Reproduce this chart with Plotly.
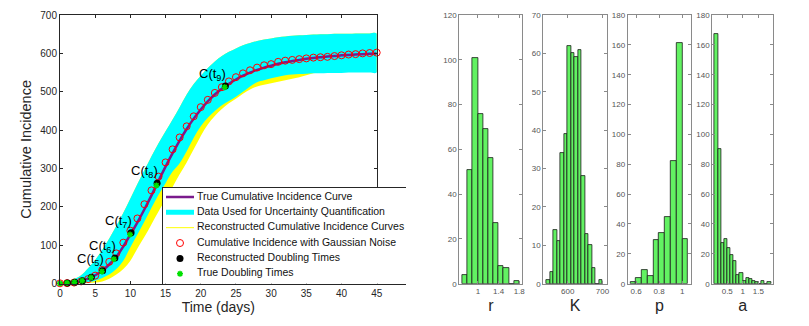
import plotly.graph_objects as go

# ---- left panel data ----
days = list(range(46))

true_curve = [1, 2, 3.6, 7, 13, 22, 34, 50, 70, 97, 128, 160, 194, 230, 268, 305, 340, 373, 403, 430,
              454, 475, 493, 508, 521, 532, 542, 550, 557, 563, 568, 573, 577, 580, 583, 586, 588, 590,
              592, 593, 595, 596, 597, 598, 599, 600]

noisy_data = [1, 1.5, 3, 6, 12, 21, 36, 57, 79, 107, 138, 170, 207, 243, 279, 316, 350, 381, 410, 436,
              460, 479, 497, 512, 527, 538, 548, 556, 563, 569, 572, 578, 581, 583, 585, 587, 589, 590,
              591, 593, 595, 597, 598, 600, 601, 602]

cyan_upper = [3, 6, 12, 22, 40, 62, 88, 118, 150, 185, 222, 260, 296, 332, 366, 397, 428, 460, 493, 520,
              542, 562, 579, 593, 604, 613, 621, 627, 632, 636, 639, 642, 644, 646, 647, 648, 649, 650,
              650, 651, 651, 651, 652, 652, 652, 652]
cyan_lower = [0, 0.5, 1, 2, 4, 8, 15, 24, 38, 60, 95, 128, 162, 198, 232, 262, 292, 314, 345, 380,
              410, 432, 450, 465, 476, 487, 500, 514, 525, 530, 535, 539, 543, 545, 546, 547, 548, 548,
              549, 549, 549, 550, 550, 550, 550, 550]
yellow_lower = [0, 0, 0, 0.5, 1.5, 3, 6, 13, 24, 38, 60, 92, 122, 155, 188, 220, 252, 285, 316, 350,
                385, 415, 437, 455, 470, 482, 495, 506, 514, 518, 522, 526, 530, 534, 538, 543, 548, 551,
                552, 552, 552, 552, 552, 552, 552, 552]

dbl_times_est = [1.05, 2.1, 3.2, 4.45, 6.05, 7.8, 10.1, 13.8, 23.5]
dbl_values_est = [2, 4, 8, 17, 34, 67, 133, 262, 515]
dbl_times_true = [0, 1.0, 2.05, 3.15, 4.4, 5.95, 7.65, 9.95, 13.7, 23.4]
dbl_values_true = [1, 2, 4, 8, 16, 32, 64, 128, 256, 512]
dbl_label_ids = [5, 6, 7, 8, 9]

legend_labels = ['True Cumulative Incidence Curve',
                 'Data Used for Uncertainty Quantification',
                 'Reconstructed Cumulative Incidence Curves',
                 'Cumulative Incidence with Gaussian Noise',
                 'Reconstructed Doubling Times',
                 'True Doubling Times']

# ---- histogram data ----
r_bins = [0.75, 0.85, 0.95, 1.05, 1.15, 1.25, 1.35, 1.45, 1.55, 1.65, 1.75]
r_counts = [4, 51, 101, 76, 69, 56, 27, 8, 7, 0, 1]
K_bins = [545, 555, 565, 575, 585, 595, 605, 615, 625, 635, 645, 655, 665, 675, 685, 695]
K_counts = [1, 3, 14, 11, 34, 39, 62, 60, 59, 61, 28, 13, 10, 4, 0, 1]
p_bins = [0.575, 0.625, 0.675, 0.725, 0.775, 0.825, 0.875, 0.925, 0.975, 1.025]
p_counts = [1, 4, 9, 5, 29, 34, 45, 82, 161, 30]
a_bins = [0.15, 0.25, 0.35, 0.45, 0.55, 0.65, 0.75, 0.85, 0.95, 1.05, 1.15, 1.25, 1.35, 1.45,
          1.55, 1.65, 1.75, 1.85]
a_counts = [167, 90, 27, 30, 24, 19, 15, 6, 7, 2, 4, 3, 2, 1, 0, 2, 0, 1]

W, H = 809, 326
FONT = 'Liberation Sans, Arial, sans-serif'
DARK = '#262626'


def px(x0, x1):
    return [x0 / W, x1 / W]


def py(top, bottom):
    return [(H - bottom) / H, (H - top) / H]


fig = go.Figure()

# uncertainty bands: yellow under, cyan over
fig.add_trace(go.Scatter(x=days + days[::-1], y=cyan_upper + yellow_lower[::-1], fill='toself',
                         fillcolor='#ffff00', line=dict(width=0, shape='spline'), mode='lines',
                         hoverinfo='skip'))
fig.add_trace(go.Scatter(x=days + days[::-1], y=cyan_upper + cyan_lower[::-1], fill='toself',
                         fillcolor='#00ffff', line=dict(width=0, shape='spline'), mode='lines',
                         hoverinfo='skip'))
fig.add_trace(go.Scatter(x=days, y=true_curve, mode='lines',
                         line=dict(color='#7a1a8c', width=2.5, shape='spline')))
fig.add_trace(go.Scatter(x=days, y=noisy_data, mode='markers', cliponaxis=False,
                         marker=dict(symbol='circle-open', size=7, color='#ff0000', line=dict(width=1))))
fig.add_trace(go.Scatter(x=dbl_times_est, y=dbl_values_est, mode='markers', cliponaxis=False,
                         marker=dict(symbol='circle', size=7, color='black')))
fig.add_trace(go.Scatter(x=dbl_times_true, y=dbl_values_true, mode='markers', cliponaxis=False,
                         marker=dict(symbol='asterisk-open', size=5, color='#00e000', line=dict(width=1.5))))

for n in dbl_label_ids:
    fig.add_annotation(x=dbl_times_est[n - 1], y=dbl_values_est[n - 1], xref='x', yref='y',
                       text=f'C(t<sub>{n}</sub>)', showarrow=False, xanchor='right', yanchor='bottom',
                       xshift=3, yshift=1, font=dict(size=13, color='black', family=FONT))

# ---- legend drawn in its own small subplot ----
rows = [87 - 15.4 * i for i in range(6)]
leg = dict(xaxis='x6', yaxis='y6', hoverinfo='skip')
fig.add_trace(go.Scatter(x=[3, 31], y=[rows[0]] * 2, mode='lines', line=dict(color='#7a1a8c', width=2.5), **leg))
fig.add_trace(go.Scatter(x=[3, 31], y=[rows[1]] * 2, mode='lines', line=dict(color='#00ffff', width=5), **leg))
fig.add_trace(go.Scatter(x=[3, 31], y=[rows[2]] * 2, mode='lines', line=dict(color='#ffff00', width=1), **leg))
fig.add_trace(go.Scatter(x=[17], y=[rows[3]], mode='markers',
                         marker=dict(symbol='circle-open', size=7, color='#ff0000', line=dict(width=1)), **leg))
fig.add_trace(go.Scatter(x=[17], y=[rows[4]], mode='markers', marker=dict(size=7, color='black'), **leg))
fig.add_trace(go.Scatter(x=[17], y=[rows[5]], mode='markers',
                         marker=dict(symbol='asterisk-open', size=5, color='#00e000', line=dict(width=1.5)), **leg))
fig.add_trace(go.Scatter(x=[34] * 6, y=rows, mode='text', text=legend_labels, textposition='middle right',
                         cliponaxis=True, textfont=dict(size=10.5, color='#111111', family=FONT), **leg))

# ---- histograms ----
bar_style = dict(marker=dict(color='#62f262', line=dict(color='#1a1a1a', width=0.8)))
for j, (bins, counts, wd) in enumerate([(r_bins, r_counts, 0.1), (K_bins, K_counts, 10),
                                        (p_bins, p_counts, 0.05), (a_bins, a_counts, 0.1)], start=2):
    fig.add_trace(go.Bar(x=bins, y=counts, width=wd, xaxis=f'x{j}', yaxis=f'y{j}', **bar_style))

main_axis = dict(showline=True, linecolor=DARK, linewidth=1, mirror='allticks', ticks='inside',
                 ticklen=3, tickcolor=DARK, showgrid=False, zeroline=False, automargin=False,
                 tickfont=dict(size=10, color=DARK, family=FONT))
hist_axis = dict(showline=True, linecolor='#8a8a8a', linewidth=1, mirror='allticks', ticks='inside',
                 ticklen=3, tickcolor='#8a8a8a', showgrid=False, zeroline=False, automargin=False,
                 tickfont=dict(size=8, color='#555555', family=FONT))

plot_top, plot_bot = 15, 283.7
layout = dict(
    width=W, height=H, margin=dict(l=0, r=0, t=0, b=0, autoexpand=False),
    paper_bgcolor='white', plot_bgcolor='white', showlegend=False, bargap=0,
    font=dict(family=FONT, color=DARK),
    xaxis=dict(domain=px(60, 376.7), range=[0, 45], tickvals=list(range(0, 46, 5)),
               title=dict(text='Time (days)', font=dict(size=14), standoff=4), **main_axis),
    yaxis=dict(domain=py(plot_top, plot_bot), range=[0, 700], tickvals=list(range(0, 701, 100)),
               title=dict(text='Cumulative Incidence', font=dict(size=14.5), standoff=5), **main_axis),
    xaxis6=dict(domain=px(163, 406), range=[0, 243], anchor='y6', showline=True, mirror=True,
                linecolor=DARK, linewidth=1, showticklabels=False, ticks='', showgrid=False,
                zeroline=False, fixedrange=True, automargin=False),
    yaxis6=dict(domain=py(188, 283.7), range=[0, 96], anchor='x6', showline=True, mirror=False,
                linecolor=DARK, linewidth=1, showticklabels=False, ticks='', showgrid=False,
                zeroline=False, fixedrange=True, automargin=False),
)

hist_specs = [('r', (459.3, 522.3), [0.64, 1.86], [1, 1.4, 1.8], ['1', '1.4', '1.8'], 120, 20),
              ('K', (543.3, 606.7), [530, 712], [600, 700], ['600', '700'], 70, 10),
              ('p', (627.7, 691.3), [0.528, 1.078], [0.6, 0.8, 1], ['0.6', '0.8', '1'], 180, 20),
              ('a', (712.3, 773.3), [0.02, 1.98], [0.5, 1, 1.5], ['0.5', '1', '1.5'], 180, 20)]
for j, (name, (x0, x1), xr, tv, tt, ymax, ystep) in enumerate(hist_specs, start=2):
    layout[f'xaxis{j}'] = dict(domain=px(x0, x1), range=xr, tickvals=tv, ticktext=tt, anchor=f'y{j}',
                               title=dict(text=name, font=dict(size=16, color=DARK), standoff=4), **hist_axis)
    layout[f'yaxis{j}'] = dict(domain=py(plot_top, plot_bot), range=[0, ymax], anchor=f'x{j}',
                               tickvals=list(range(0, ymax + 1, ystep)), **hist_axis)

fig.update_layout(**layout)
# drop the browser's default 8px page margin so the figure sits at the window origin
fig.write_html("out.html", config={'displayModeBar': False},
               post_script="document.body.style.margin='0px';document.body.style.overflow='hidden';")
